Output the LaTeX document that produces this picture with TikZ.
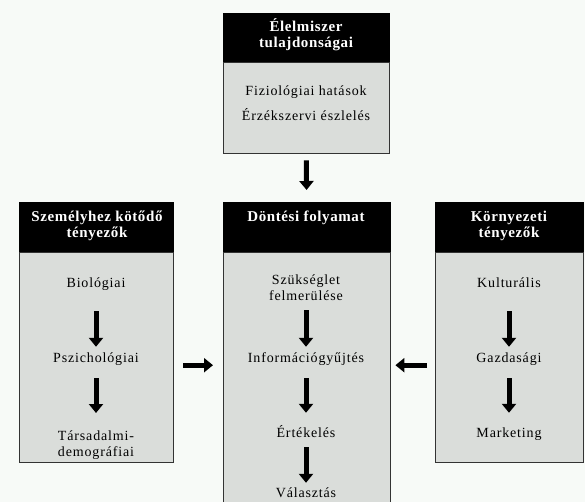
\documentclass[tikz,border=0pt]{standalone}
\usepackage{fontspec}
\setmainfont{Liberation Serif}
\newfontfamily\itemfont[LetterSpace=6]{Liberation Serif}
\newfontfamily\hdrfont[LetterSpace=4]{Liberation Serif}
\usepackage{tikz}
\usetikzlibrary{positioning,arrows.meta}

\definecolor{bgpaper}{HTML}{F7FAF7}
\definecolor{boxgrey}{HTML}{DADDDA}

\tikzset{
  hdr/.style={draw=black, fill=black, anchor=north west, inner sep=0pt},
  hdrtext/.style={text=white, font=\hdrfont\fontsize{15}{16}\selectfont\bfseries, align=center, inner sep=0pt, anchor=north},
  body/.style={draw=black!80, fill=boxgrey, anchor=north west, inner sep=0pt},
  item/.style={font=\itemfont\fontsize{14}{16}\selectfont, inner sep=0pt, text height=10pt, text depth=3pt, anchor=base},
  items/.style={font=\itemfont\fontsize{14}{16}\selectfont, align=center, inner sep=0pt, anchor=north},
  blk/.style={line width=5pt, -{Triangle[width=14pt,length=9pt]}},
}

\begin{document}
\begin{tikzpicture}[x=1pt,y=-1pt]
    \fill[bgpaper] (0,0) rectangle (585,502);
    \useasboundingbox (0,0) rectangle (585,502);
    \clip (0,0) rectangle (585,502);

    % Top box
    \node[hdr, minimum width=166pt, minimum height=49pt] (hdT) at (223,13) {};
    \node[body, minimum width=166pt, minimum height=91pt] (bdT) at (223,62) {};
    \node[hdrtext] (tT) at (306,18) {Élelmiszer\\tulajdonságai};
    \node[item] (fiz) at (306,96) {Fiziológiai hatások};
    \node[item] (erz) at (306,121) {Érzékszervi észlelés};

    % Left box
    \node[hdr, minimum width=154pt, minimum height=50pt] (hdL) at (19,202) {};
    \node[body, minimum width=154pt, minimum height=210pt] (bdL) at (19,252) {};
    \node[hdrtext] (tL) at (97,211) {Személyhez kötődő\\tényezők};
    \node[item] (bio) at (96,287) {Biológiai};
    \node[item] (psz) at (96,362) {Pszichológiai};
    \node[items] (tars) at (96,431) {Társadalmi-\\demográfiai};

    % Center box
    \node[hdr, minimum width=167pt, minimum height=50pt] (hdC) at (223,202) {};
    \node[body, minimum width=167pt, minimum height=320pt] (bdC) at (223,252) {};
    \node[hdrtext] (tC) at (306,211) {Döntési folyamat};
    \node[items] (szuk) at (306,275) {Szükséglet\\felmerülése};
    \node[item] (info) at (306,362) {Információgyűjtés};
    \node[item] (ert) at (306,437) {Értékelés};
    \node[item] (val) at (306,497) {Választás};

    % Right box
    \node[hdr, minimum width=148pt, minimum height=50pt] (hdR) at (435,202) {};
    \node[body, minimum width=148pt, minimum height=210pt] (bdR) at (435,252) {};
    \node[hdrtext] (tR) at (509,211) {Környezeti\\tényezők};
    \node[item] (kult) at (509,287) {Kulturális};
    \node[item] (gazd) at (509,362) {Gazdasági};
    \node[item] (mark) at (509,437) {Marketing};

    % Arrows
    \draw[blk, shorten <=7pt, shorten >=12pt] (bdT.south) -- (hdC.north);
    \draw[blk, shorten <=21pt, shorten >=5pt] (bio) -- (psz);
    \draw[blk, shorten <=13pt, shorten >=18pt] (psz) -- (tars);
    \draw[blk, shorten <=9pt, shorten >=5pt] (szuk) -- (info);
    \draw[blk, shorten <=13pt, shorten >=14pt] (info) -- (ert);
    \draw[blk, shorten <=7pt, shorten >=4pt] (ert) -- (val);
    \draw[blk, shorten <=21pt, shorten >=5pt] (kult) -- (gazd);
    \draw[blk, shorten <=13pt, shorten >=14pt] (gazd) -- (mark);
    \draw[blk, shorten <=10pt, shorten >=10pt] (bdL.east |- psz.south) -- (bdC.west |- psz.south);
    \draw[blk, shorten <=8pt, shorten >=5pt] (bdR.west |- psz.south) -- (bdC.east |- psz.south);
\end{tikzpicture}
\end{document}
